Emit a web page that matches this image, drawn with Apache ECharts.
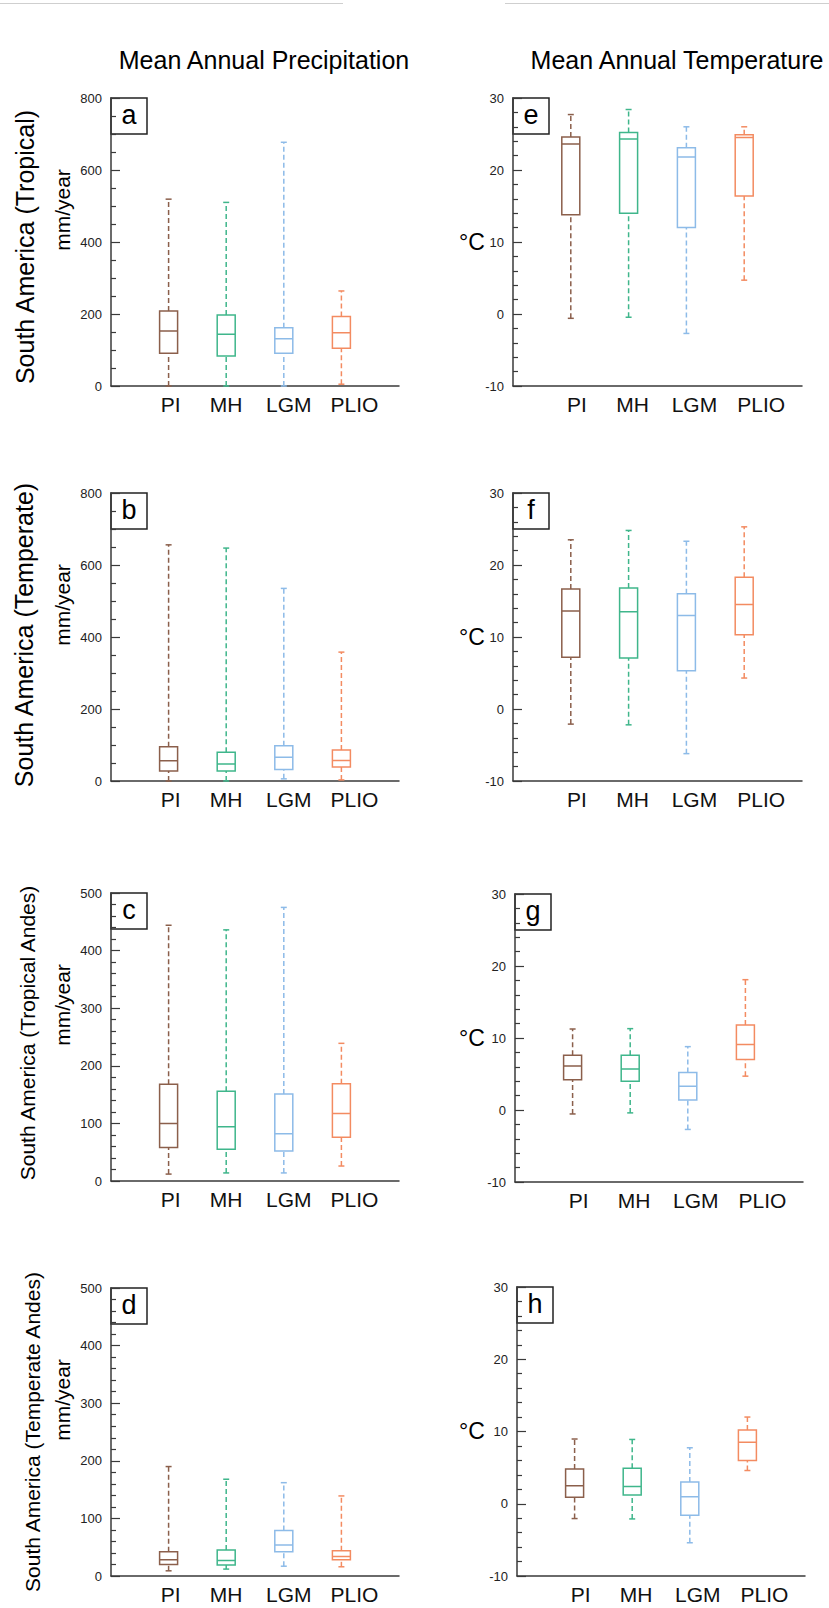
<!DOCTYPE html>
<html>
<head>
<meta charset="utf-8">
<title>South America precipitation / temperature</title>
<script src="https://cdn.jsdelivr.net/npm/echarts@6/dist/echarts.min.js"></script>
<style>
  html, body { margin: 0; padding: 0; background: #fff; }
  #main { width: 829px; height: 1608px; }
</style>
</head>
<body>
<div id="main"></div>
<script>
const periods = ['PI', 'MH', 'LGM', 'PLIO']
const periodColors = ['#8b5f4b', '#3fb68b', '#8dbbe8', '#f38b61']

const columnTitles = ['Mean Annual Precipitation', 'Mean Annual Temperature']
const regionNames = ['South America (Tropical)', 'South America (Temperate)', 'South America (Tropical Andes)', 'South America (Temperate Andes)']
const precipUnit = 'mm/year'
const tempUnit = '°C'
const precipLetters = ['a', 'b', 'c', 'd']
const tempLetters = ['e', 'f', 'g', 'h']

// y axis ticks
const precipMax = [800, 800, 500, 500]
const precipStep = [200, 200, 100, 100]
const tempMin = -10
const tempMax = 30
const tempStep = 10

// [min, Q1, median, Q3, max] for PI, MH, LGM, PLIO
const precipTropical = [[0, 91, 153, 208, 519], [0, 83, 144, 197, 510], [0, 91, 131, 162, 677], [5, 105, 148, 193, 264]]
const precipTemperate = [[0, 28, 56, 95, 656], [0, 28, 47, 80, 647], [6, 32, 66, 98, 535], [3, 39, 57, 86, 358]]
const precipTropicalAndes = [[12, 58, 100, 168, 444], [14, 55, 94, 156, 436], [14, 52, 82, 151, 475], [26, 76, 117, 169, 239]]
const precipTemperateAndes = [[9, 20, 28, 42, 190], [12, 19, 27, 45, 168], [17, 42, 54, 79, 162], [16, 28, 34, 44, 139]]

const tempTropical = [[-0.6, 13.8, 23.6, 24.6, 27.7], [-0.45, 14.0, 24.3, 25.2, 28.4], [-2.7, 12.0, 21.8, 23.1, 26.0], [4.7, 16.4, 24.5, 24.9, 26.0]]
const tempTemperate = [[-2.1, 7.2, 13.6, 16.65, 23.5], [-2.2, 7.1, 13.5, 16.8, 24.8], [-6.2, 5.3, 13.0, 16.0, 23.3], [4.3, 10.3, 14.5, 18.3, 25.3]]
const tempTropicalAndes = [[-0.55, 4.2, 6.1, 7.6, 11.25], [-0.4, 4.0, 5.7, 7.6, 11.3], [-2.7, 1.4, 3.3, 5.2, 8.8], [4.7, 7.0, 9.1, 11.8, 18.1]]
const tempTemperateAndes = [[-2.05, 0.9, 2.5, 4.8, 8.96], [-2.1, 1.2, 2.4, 4.9, 8.9], [-5.4, -1.6, 0.96, 3.0, 7.75], [4.6, 6.0, 8.5, 10.2, 12.0]]

const precipStats = [precipTropical, precipTemperate, precipTropicalAndes, precipTemperateAndes]
const tempStats = [tempTropical, tempTemperate, tempTropicalAndes, tempTemperateAndes]

// layout (pixels)
const FONT = '"Liberation Sans", Arial, Helvetica, sans-serif'
const AXIS_COLOR = '#3a3a3a'
const precipGrids = [
  { left: 111, top: 98, width: 288, height: 288 },
  { left: 111, top: 493, width: 288, height: 288 },
  { left: 111, top: 893, width: 288, height: 288 },
  { left: 111, top: 1288, width: 288, height: 288 },
]
const tempGrids = [
  { left: 513, top: 98, width: 289, height: 288 },
  { left: 513, top: 493, width: 289, height: 288 },
  { left: 515, top: 894, width: 288, height: 288 },
  { left: 517, top: 1287, width: 288, height: 289 },
]
// the x labels sit a little right of the boxes in the original
const precipLabelShift = [2, 0, 5, 13]
const tempLabelShift = [6, 4, 8, 17]
const regionLabelPos = [[25, 247, 25], [24, 635, 25], [27, 1033, 21], [32, 1432, 21]]
const unitLabelY = [210, 605, 1005, 1400]
const celsiusLabelY = [242, 637, 1038, 1431]

let grids = []
let xAxes = []
let yAxes = []
let series = []
let graphics = []

function whiskerRender(params, api) {
  const x = api.value(0)
  const lo = api.coord([x, api.value(1)])
  const q1 = api.coord([x, api.value(2)])
  const q3 = api.coord([x, api.value(3)])
  const hi = api.coord([x, api.value(4)])
  const color = periodColors[params.dataIndex]
  const dashed = { stroke: color, lineWidth: 1.5, lineDash: [5, 3] }
  const solid = { stroke: color, lineWidth: 1.5 }
  const cap = 3
  return {
    type: 'group',
    children: [
      { type: 'line', shape: { x1: lo[0], y1: lo[1], x2: q1[0], y2: q1[1] }, style: dashed },
      { type: 'line', shape: { x1: q3[0], y1: q3[1], x2: hi[0], y2: hi[1] }, style: dashed },
      { type: 'line', shape: { x1: lo[0] - cap, y1: lo[1], x2: lo[0] + cap, y2: lo[1] }, style: solid },
      { type: 'line', shape: { x1: hi[0] - cap, y1: hi[1], x2: hi[0] + cap, y2: hi[1] }, style: solid },
    ],
  }
}

function addPanel(rect, stats, yMin, yMax, yStep, minorSplit, letter, labelShift) {
  const idx = grids.length
  grids.push({ left: rect.left, top: rect.top, width: rect.width, height: rect.height, outerBoundsMode: 'none', containLabel: false })
  let rich = {}
  periods.forEach((p, k) => {
    rich['s' + k] = { fontFamily: FONT, fontSize: 21, color: '#111', padding: [0, 0, 0, labelShift[k] * 2] }
  })
  xAxes.push({
    gridIndex: idx,
    type: 'value',
    min: 0,
    max: periods.length + 1,
    interval: 1,
    splitLine: { show: false },
    axisTick: { show: false },
    axisLine: { show: true, onZero: false, lineStyle: { color: AXIS_COLOR, width: 1.5 } },
    axisLabel: {
      fontFamily: FONT,
      fontSize: 21,
      color: '#111',
      margin: 8,
      showMinLabel: true,
      showMaxLabel: true,
      formatter: (v) => (periods[v - 1] ? '{s' + (v - 1) + '|' + periods[v - 1] + '}' : ''),
      rich: rich,
    },
  })
  yAxes.push({
    gridIndex: idx,
    type: 'value',
    min: yMin,
    max: yMax,
    interval: yStep,
    splitLine: { show: false },
    axisLine: { show: true, onZero: false, lineStyle: { color: AXIS_COLOR, width: 1.5 } },
    axisTick: { show: true, inside: true, length: 9, lineStyle: { color: AXIS_COLOR, width: 1.2 } },
    minorTick: { show: true, splitNumber: minorSplit, length: 5, lineStyle: { color: AXIS_COLOR, width: 1.2 } },
    axisLabel: { fontFamily: FONT, fontSize: 13, color: '#222', margin: 9, showMinLabel: true, showMaxLabel: true },
  })
  // box + median (whiskers collapsed, drawn dashed below)
  series.push({
    type: 'boxplot',
    xAxisIndex: idx,
    yAxisIndex: idx,
    boxWidth: [18, 18],
    silent: true,
    z: 3,
    data: stats.map((s, k) => ({
      value: [k + 1, s[1], s[1], s[2], s[3], s[3]],
      itemStyle: { color: 'rgba(255,255,255,0)', borderColor: periodColors[k], borderWidth: 1.5 },
    })),
  })
  series.push({
    type: 'custom',
    xAxisIndex: idx,
    yAxisIndex: idx,
    silent: true,
    z: 2,
    encode: { x: 0, y: [1, 2, 3, 4] },
    data: stats.map((s, k) => [k + 1, s[0], s[1], s[3], s[4]]),
    renderItem: whiskerRender,
  })
  // panel letter
  graphics.push({
    type: 'group',
    x: rect.left,
    y: rect.top,
    z: 100,
    children: [
      { type: 'rect', shape: { x: 0, y: 0, width: 36, height: 36 }, style: { fill: '#fff', stroke: '#222', lineWidth: 1.5 } },
      { type: 'text', x: 18, y: 17, style: { text: letter, font: '27px ' + FONT, fill: '#000', textAlign: 'center', textVerticalAlign: 'middle' } },
    ],
  })
}

for (let r = 0; r < 4; r++) {
  addPanel(precipGrids[r], precipStats[r], 0, precipMax[r], precipStep[r], precipStep[r] === 200 ? 4 : 5, precipLetters[r], precipLabelShift)
  addPanel(tempGrids[r], tempStats[r], tempMin, tempMax, tempStep, 5, tempLetters[r], tempLabelShift)

  const [rx, ry, rf] = regionLabelPos[r]
  graphics.push({
    type: 'text', x: rx, y: ry, rotation: Math.PI / 2,
    style: { text: regionNames[r], font: rf + 'px ' + FONT, fill: '#000', textAlign: 'center', textVerticalAlign: 'middle' },
  })
  graphics.push({
    type: 'text', x: 62, y: unitLabelY[r], rotation: Math.PI / 2,
    style: { text: precipUnit, font: '21px ' + FONT, fill: '#000', textAlign: 'center', textVerticalAlign: 'middle' },
  })
  graphics.push({
    type: 'text', x: 472, y: celsiusLabelY[r],
    style: { text: tempUnit, font: '23px ' + FONT, fill: '#000', textAlign: 'center', textVerticalAlign: 'middle' },
  })
}

graphics.push({ type: 'text', x: 264, y: 60, style: { text: columnTitles[0], font: '25px ' + FONT, fill: '#000', textAlign: 'center', textVerticalAlign: 'middle' } })
graphics.push({ type: 'text', x: 677, y: 60, style: { text: columnTitles[1], font: '25px ' + FONT, fill: '#000', textAlign: 'center', textVerticalAlign: 'middle' } })
// faint frame lines along the top edge
graphics.push({ type: 'line', shape: { x1: 0, y1: 3.5, x2: 343, y2: 3.5 }, style: { stroke: '#cfcfcf', lineWidth: 1 } })
graphics.push({ type: 'line', shape: { x1: 505, y1: 3.5, x2: 829, y2: 3.5 }, style: { stroke: '#cfcfcf', lineWidth: 1 } })

const chart = echarts.init(document.getElementById('main'), null, { renderer: 'svg' })
chart.setOption({
  animation: false,
  backgroundColor: '#fff',
  grid: grids,
  xAxis: xAxes,
  yAxis: yAxes,
  series: series,
  graphic: graphics,
})
window.addEventListener('resize', () => {
  chart.resize()
})
</script>
</body>
</html>
